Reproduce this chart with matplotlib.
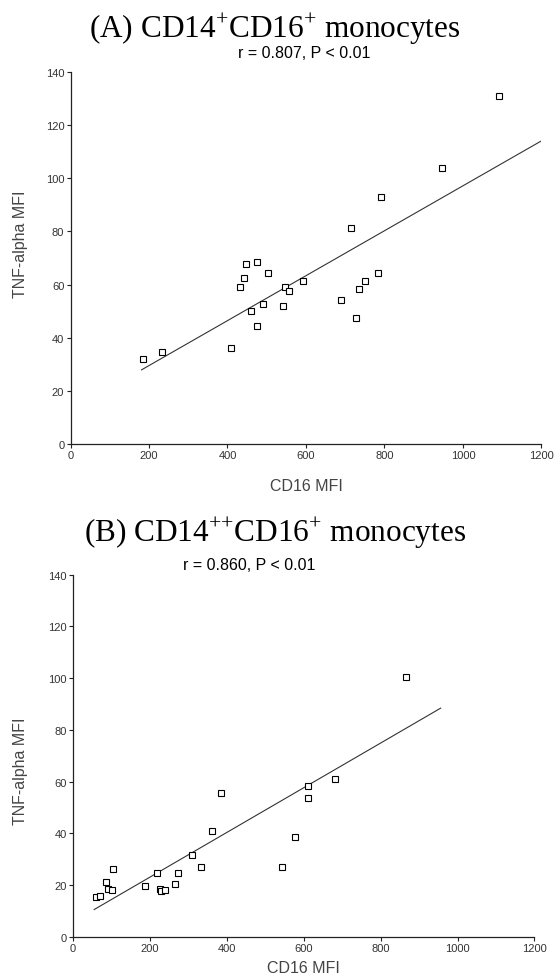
import numpy as np
import matplotlib
matplotlib.use("Agg")
import matplotlib.pyplot as plt

plt.rcParams['mathtext.fontset'] = 'custom'
plt.rcParams['mathtext.rm'] = 'Liberation Serif'

# panel A: CD14+CD16+ monocytes
cd16_a = [185, 232, 408, 432, 441, 448, 476, 460, 476, 490, 504, 541,
          547, 557, 592, 690, 715, 728, 734, 750, 784, 791, 946, 1092]
tnf_a = [32.0, 34.7, 36.2, 59.2, 62.5, 67.6, 68.6, 50.1, 44.5, 52.8, 64.4, 51.9,
         59.2, 57.5, 61.2, 54.3, 81.2, 47.4, 58.3, 61.2, 64.4, 93.1, 103.8, 131.0]
fit_a_x = [181, 1198]
fit_a_y = [27.9, 113.9]

# panel B: CD14++CD16+ monocytes
cd16_b = [59, 69, 85, 90, 102, 104, 188, 218, 225, 230, 240, 266,
          272, 309, 334, 362, 384, 544, 576, 612, 612, 680, 867]
tnf_b = [15.4, 15.7, 21.3, 18.6, 18.1, 26.1, 19.5, 24.7, 18.6, 17.7, 18.1, 20.4,
         24.7, 31.5, 26.8, 40.9, 55.7, 26.8, 38.6, 58.2, 53.8, 61.0, 100.6]
fit_b_x = [55, 956]
fit_b_y = [10.5, 88.4]

xticks = [0, 200, 400, 600, 800, 1000, 1200]
yticks = [0, 20, 40, 60, 80, 100, 120, 140]

fig = plt.figure(figsize=(5.56, 9.78), dpi=100)

def panel(rect, x, y, fx, fy, ylab_x, ylab_y, xpad):
    ax = fig.add_axes(rect)
    ax.plot(fx, fy, color='#333333', lw=0.8)
    ax.plot(x, y, ls='none', marker='s', ms=4, mfc='white', mec='black', mew=0.8)
    ax.set_xlim(0, 1200)
    ax.set_ylim(0, 140)
    ax.set_xticks(xticks)
    ax.set_yticks(yticks)
    for s in ['top', 'right']:
        ax.spines[s].set_visible(False)
    for s in ['left', 'bottom']:
        ax.spines[s].set_color('#222222')
        ax.spines[s].set_linewidth(0.9)
    ax.tick_params(direction='out', length=3, width=0.8, color='#222222',
                   labelsize=8, labelcolor='#333333', pad=1.5)
    ax.set_xlabel('CD16 MFI', fontsize=11.5, color='#444444', labelpad=xpad,
                  family='Liberation Sans')
    ax.set_ylabel('TNF-alpha MFI', fontsize=11.5, color='#444444',
                  family='Liberation Sans')
    ax.yaxis.set_label_coords(ylab_x, ylab_y)
    for t in ax.get_xticklabels() + ax.get_yticklabels():
        t.set_family('Liberation Sans')
    ax.patch.set_alpha(0)
    return ax

ax1 = panel([0.1268, 0.545, 0.847, 0.3804], cd16_a, tnf_a, fit_a_x, fit_a_y,
            -0.09, 0.54, 13)
ax2 = panel([0.1313, 0.0412, 0.830, 0.3701], cd16_b, tnf_b, fit_b_x, fit_b_y,
            -0.097, 0.46, 5)

fig.text(0.4946, 0.9615, r'(A) CD14$^{\mathrm{{+}}}$CD16$^{\mathrm{{+}}}$ monocytes',
         ha='center', va='baseline', fontsize=22.5, family='Liberation Serif')
fig.text(0.547, 0.9405, 'r = 0.807, P < 0.01', ha='center', va='baseline',
         fontsize=11.5, family='Liberation Sans')
fig.text(0.4946, 0.4458, r'(B) CD14$^{\mathrm{{+}{+}}}$CD16$^{\mathrm{{+}}}$ monocytes',
         ha='center', va='baseline', fontsize=22.5, family='Liberation Serif')
fig.text(0.448, 0.4172, 'r = 0.860, P < 0.01', ha='center', va='baseline',
         fontsize=11.5, family='Liberation Sans')

fig.savefig('out.png', dpi=100)
